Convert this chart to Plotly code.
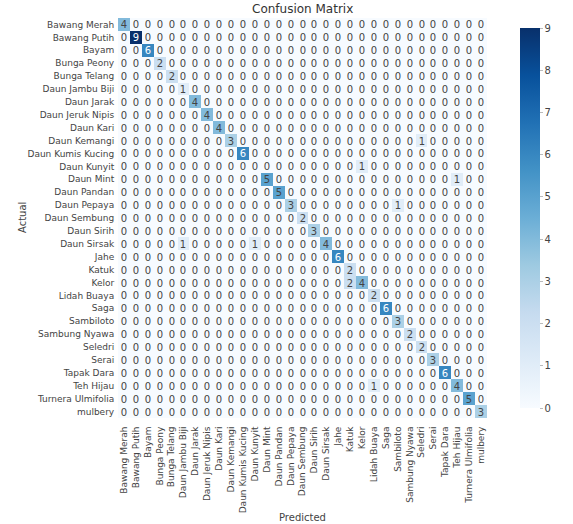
import plotly.graph_objects as go

labels = ["Bawang Merah", "Bawang Putih", "Bayam", "Bunga Peony", "Bunga Telang",
          "Daun Jambu Biji", "Daun Jarak", "Daun Jeruk Nipis", "Daun Kari", "Daun Kemangi",
          "Daun Kumis Kucing", "Daun Kunyit", "Daun Mint", "Daun Pandan", "Daun Pepaya",
          "Daun Sembung", "Daun Sirih", "Daun Sirsak", "Jahe", "Katuk", "Kelor",
          "Lidah Buaya", "Saga", "Sambiloto", "Sambung Nyawa", "Seledri", "Serai",
          "Tapak Dara", "Teh Hijau", "Turnera Ulmifolia", "mulbery"]

diag_values = [4, 9, 6, 2, 2, 1, 4, 4, 4, 3, 6, 0, 5, 5, 3, 2, 3, 4, 6, 2, 4,
               2, 6, 3, 2, 2, 3, 6, 4, 5, 3]

# (actual, predicted, count) for off-diagonal errors
off_diag = [
    ("Daun Kemangi", "Seledri", 1),
    ("Daun Kunyit", "Kelor", 1),
    ("Daun Mint", "Teh Hijau", 1),
    ("Daun Pepaya", "Sambiloto", 1),
    ("Daun Sirsak", "Daun Jambu Biji", 1),
    ("Daun Sirsak", "Daun Kunyit", 1),
    ("Kelor", "Katuk", 2),
    ("Teh Hijau", "Lidah Buaya", 1),
]

n = len(labels)
z = [[0] * n for _ in range(n)]
for i, v in enumerate(diag_values):
    z[i][i] = v
for a, p, c in off_diag:
    z[labels.index(a)][labels.index(p)] = c

blues = ["#f7fbff", "#deebf7", "#c6dbef", "#9ecae1", "#6baed6",
         "#4292c6", "#2171b5", "#08519c", "#08306b"]
colorscale = [[i / (len(blues) - 1), c] for i, c in enumerate(blues)]

W, H = 573, 524
L, R, T, B = 118, 55, 18, 106
pw = W - L - R

fig = go.Figure(go.Heatmap(
    z=z, x=labels, y=labels,
    colorscale=colorscale, zmin=0, zmax=9,
    texttemplate="%{z}", textfont=dict(size=10, family="DejaVu Sans"),
    xgap=0, ygap=0,
    colorbar=dict(
        x=(543 - L) / pw, xanchor="left", xref="paper",
        y=0.5, yanchor="middle", len=1.0, lenmode="fraction",
        thickness=20, outlinewidth=0,
        tickvals=list(range(10)), ticks="outside", ticklen=3,
        tickcolor="#bbbbbb", tickfont=dict(size=10, color="#444444"),
    ),
))

fig.update_layout(
    width=W, height=H, autosize=False,
    margin=dict(l=L, r=R, t=T, b=B),
    plot_bgcolor="white", paper_bgcolor="white",
    font=dict(family="DejaVu Sans", size=10, color="#444444"),
    xaxis=dict(tickangle=-90, showgrid=False, zeroline=False,
               ticks="outside", ticklen=4, tickcolor="rgba(0,0,0,0)",
               tickmode="array", tickvals=labels, ticktext=labels,
               tickfont=dict(size=9), automargin=False),
    yaxis=dict(autorange="reversed", showgrid=False, zeroline=False,
               ticks="outside", ticklen=1, tickcolor="rgba(0,0,0,0)",
               tickmode="array", tickvals=labels, ticktext=labels,
               tickfont=dict(size=9), automargin=False),
    annotations=[
        dict(text="Confusion Matrix", x=0.5, y=1, xref="paper", yref="paper",
             xanchor="center", yanchor="bottom", yshift=0, showarrow=False,
             font=dict(size=12, color="#333333")),
        dict(text="Predicted", x=0.5, y=0, xref="paper", yref="paper",
             xanchor="center", yanchor="middle", yshift=-99, showarrow=False,
             font=dict(size=10, color="#444444")),
        dict(text="Actual", x=0, y=0.5, xref="paper", yref="paper",
             xanchor="center", yanchor="middle", xshift=-96, textangle=-90,
             showarrow=False, font=dict(size=10, color="#444444")),
    ],
)

fig.write_html("out.html")
